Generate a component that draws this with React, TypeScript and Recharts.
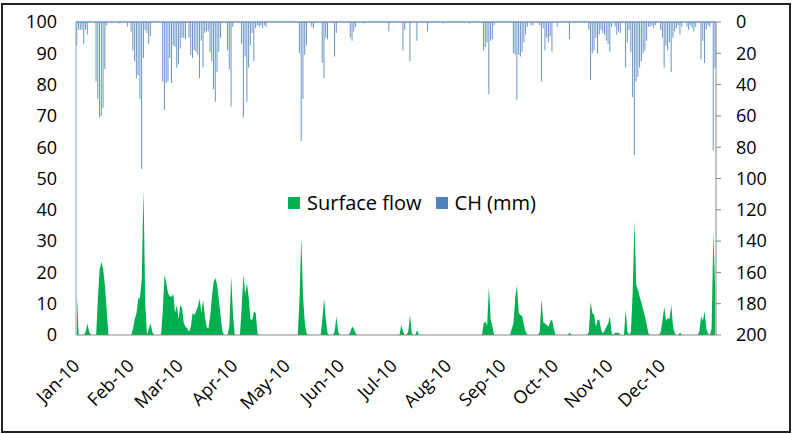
import { ComposedChart, Area, Bar, XAxis, YAxis, Legend, ReferenceLine } from 'recharts'

const FONT = "'Open Sans', sans-serif"

// day index (0 = 1 Jan 2010) of each month label
const monthStarts = [0, 31, 59, 90, 120, 151, 181, 212, 243, 273, 304, 334]
const monthLabels = ['Jan-10', 'Feb-10', 'Mar-10', 'Apr-10', 'May-10', 'Jun-10', 'Jul-10', 'Aug-10', 'Sep-10', 'Oct-10', 'Nov-10', 'Dec-10']

const flowTicks = [0, 10, 20, 30, 40, 50, 60, 70, 80, 90, 100]
const rainTicks = [0, 20, 40, 60, 80, 100, 120, 140, 160, 180, 200]

// [day, surface flow] - days not listed are 0
const flowEvents: [number, number][] = [
  [0, 13], [5, 1], [6, 3.7], [7, 1],
  [12, 12], [13, 21], [14, 23.4], [15, 21], [16, 15.7], [17, 8],
  [32, 2], [33, 5], [34, 7], [35, 11.5], [36, 12], [37, 18], [38, 46.8], [39, 10],
  [41, 2], [42, 3.7], [43, 1],
  [49, 8], [50, 19.3], [51, 16.6], [52, 13.4], [53, 12.3], [54, 12.3], [55, 13], [56, 7], [57, 9.6], [58, 5],
  [59, 9.6], [60, 8.5], [61, 3.7], [62, 2.6], [63, 2.1], [64, 1],
  [65, 2.6], [66, 7], [67, 6.4], [68, 7.5], [69, 9], [70, 11.7], [71, 7], [72, 11.2], [73, 5.9], [74, 2.6],
  [75, 2], [76, 6], [77, 12], [78, 17], [79, 18.2], [80, 16], [81, 11], [82, 6], [83, 1],
  [87, 3], [88, 18.8], [89, 7],
  [94, 9], [95, 19.3], [96, 13], [97, 16.5], [98, 12], [99, 5], [100, 4.8], [101, 7.5], [102, 7], [103, 0.5],
  [127, 12], [128, 31.3], [129, 12], [130, 4], [131, 0.5],
  [140, 5], [141, 11.7], [142, 5], [143, 0.5],
  [147, 1], [148, 5.9], [149, 1],
  [156, 1], [157, 2.6], [158, 2], [159, 0.5],
  [185, 3.2], [186, 1], [189, 1], [190, 6.4], [191, 0.5], [194, 1.6],
  [232, 3.7], [233, 4.3], [234, 3], [235, 15.5], [236, 4.8], [237, 2.6],
  [248, 2], [249, 3.7], [250, 12], [251, 16], [252, 7], [253, 6.4], [254, 6], [255, 3], [256, 1],
  [264, 1], [265, 11.5], [266, 4], [267, 3.7], [268, 3.2], [269, 2.6], [270, 4.3], [271, 5], [272, 2],
  [281, 0.8],
  [292, 1], [293, 10.6], [294, 7], [295, 6.4], [296, 2.6], [297, 4.8], [298, 4.8], [299, 1.6], [300, 0.5],
  [301, 1.5], [302, 2.6], [303, 3.7], [304, 5.9], [305, 0.5],
  [307, 0.7], [308, 0.7], [309, 0.7],
  [313, 8], [314, 1],
  [316, 1], [317, 14], [318, 36.7], [319, 16], [320, 14.4], [321, 12.2], [322, 10.2], [323, 8], [324, 6], [325, 3.3], [326, 0.5],
  [333, 1], [334, 4.8], [335, 9], [336, 4.5], [337, 5.4], [338, 5], [339, 9.6], [340, 2.6], [341, 0.5],
  [344, 0.8],
  [355, 1], [356, 5.9], [357, 4.5], [358, 7.5], [359, 2], [360, 0.5],
  [362, 2], [363, 33], [364, 15],
]

// [day, CH mm] - days not listed are 0
const rainEvents: [number, number][] = [
  [0, 15], [1, 5], [2, 5], [3, 5], [4, 14], [5, 5], [6, 8],
  [11, 38], [12, 49], [13, 61], [14, 60], [15, 55], [16, 30], [17, 2],
  [24, 1], [29, 3],
  [31, 6], [32, 18], [33, 25], [34, 36], [35, 34], [36, 49], [37, 94], [38, 23], [39, 5], [40, 7], [41, 14], [42, 9],
  [49, 38], [50, 56], [51, 39], [52, 38], [53, 23], [54, 39], [55, 15], [56, 16], [57, 29], [58, 27], [59, 17],
  [60, 10], [61, 10], [62, 11],
  [64, 10], [65, 21], [66, 23], [67, 18], [68, 19], [69, 21], [70, 36], [71, 12], [72, 29], [73, 7], [74, 6],
  [75, 6], [76, 19], [77, 25], [78, 43], [79, 51], [80, 32], [81, 19], [82, 10],
  [86, 18], [87, 30], [88, 54], [89, 3],
  [94, 14], [95, 61], [96, 22], [97, 51], [98, 29], [99, 15], [100, 7], [101, 25], [102, 4], [103, 2],
  [104, 3], [105, 2], [106, 4], [107, 2], [108, 3],
  [127, 20], [128, 76], [129, 49], [130, 21], [131, 15],
  [134, 3], [135, 4],
  [140, 26], [141, 36], [142, 10], [143, 11],
  [147, 22], [148, 7],
  [156, 10], [157, 12], [158, 6], [159, 3],
  [164, 1], [178, 6],
  [186, 18], [187, 5], [190, 25], [194, 12], [200, 6], [209, 1], [224, 1],
  [232, 18], [233, 16], [234, 13], [235, 46], [236, 12], [237, 11], [238, 2],
  [249, 20], [250, 21], [251, 50], [252, 21], [253, 22], [254, 19], [255, 13], [256, 8], [257, 3],
  [259, 2], [260, 2],
  [264, 2], [265, 38], [266, 4], [267, 18], [268, 10], [269, 13], [270, 9], [271, 19],
  [274, 3], [281, 11],
  [292, 5], [293, 37], [294, 20], [295, 18], [296, 10], [297, 20], [298, 8], [299, 5], [300, 7],
  [301, 8], [302, 12], [303, 14], [304, 19], [305, 3],
  [307, 3], [308, 8], [309, 6], [310, 7],
  [313, 29], [314, 13],
  [315, 5], [316, 19], [317, 48], [318, 85], [319, 38], [320, 35], [321, 29], [322, 25], [323, 20], [324, 18],
  [325, 12], [326, 3], [327, 3], [328, 2], [329, 4], [330, 2],
  [333, 5], [334, 10], [335, 29], [336, 15], [337, 18], [338, 13], [339, 32], [340, 10], [341, 6], [342, 4],
  [343, 2], [344, 8], [345, 3],
  [348, 3], [349, 5], [350, 2], [351, 4], [352, 6], [353, 3],
  [356, 24], [357, 12], [358, 26], [359, 5], [360, 2], [361, 3],
  [363, 82], [364, 29],
]

const data = Array.from({ length: 365 }, (_, day) => ({ day, flow: 0, rain: 0 }))
flowEvents.forEach(([d, v]) => { data[d].flow = v })
rainEvents.forEach(([d, v]) => { data[d].rain = v })

const GREEN = '#00B050'
const BLUE = '#4F81BD'

function MonthTick({ x, y, payload }: any) {
  const label = monthLabels[monthStarts.indexOf(payload.value)]
  return (
    <g transform={`translate(${x + 4},${y + 24})`}>
      <text textAnchor="end" transform="rotate(-45)" fontSize={18} fontFamily={FONT} fill="#000">
        {label}
      </text>
    </g>
  )
}

function ChartLegend() {
  const item = (color: string, text: string, gap: number) => (
    <div style={{ display: 'flex', alignItems: 'center', marginRight: gap }}>
      <div style={{ width: 12, height: 12, background: color, marginRight: 7 }} />
      <span>{text}</span>
    </div>
  )
  return (
    <div style={{ display: 'flex', alignItems: 'center', fontFamily: FONT, fontSize: 20, color: '#000', lineHeight: '24px' }}>
      {item(GREEN, 'Surface flow', 14)}
      {item(BLUE, 'CH (mm)', 0)}
    </div>
  )
}

export default function App() {
  return (
    <div style={{ position: 'absolute', left: 0, top: 0, width: 793, height: 434, background: '#fff' }}>
      <div style={{ position: 'absolute', left: 1, top: 3, width: 790, height: 430, border: '2px solid #222', boxSizing: 'border-box' }} />
      <div style={{ position: 'absolute', left: 0, top: 0 }}>
        <ComposedChart width={793} height={434} data={data} margin={{ top: 22, right: 0, bottom: 0, left: 0 }} barCategoryGap="15%">
          <XAxis
            dataKey="day"
            ticks={monthStarts}
            interval={0}
            tick={<MonthTick />}
            tickLine={false}
            axisLine={{ stroke: '#868686' }}
            height={99}
          />
          <YAxis
            yAxisId="left"
            domain={[0, 100]}
            ticks={flowTicks}
            width={76}
            tickLine={false}
            tickSize={0}
            tickMargin={19}
            axisLine={{ stroke: '#8EA6C8' }}
            tick={{ fontSize: 18, fontFamily: FONT, fill: '#000' }}
          />
          <YAxis
            yAxisId="right"
            orientation="right"
            reversed
            domain={[0, 200]}
            ticks={rainTicks}
            width={77}
            tickSize={5}
            tickMargin={15}
            tickLine={{ stroke: '#868686' }}
            axisLine={{ stroke: '#868686' }}
            tick={{ fontSize: 18, fontFamily: FONT, fill: '#000', textAnchor: 'start' }}
          />
          <Area
            yAxisId="left"
            type="linear"
            dataKey="flow"
            name="Surface flow"
            fill={GREEN}
            fillOpacity={1}
            stroke="none"
            isAnimationActive={false}
          />
          <Bar
            yAxisId="right"
            dataKey="rain"
            name="CH (mm)"
            fill={BLUE}
            fillOpacity={0.85}
            isAnimationActive={false}
          />
          <ReferenceLine yAxisId="right" y={0} stroke="#6F94C8" strokeWidth={1.5} />
          <Legend
            layout="horizontal"
            verticalAlign="middle"
            align="center"
            content={<ChartLegend />}
            wrapperStyle={{ left: 288, top: 191, width: 'auto' }}
          />
        </ComposedChart>
      </div>
    </div>
  )
}
